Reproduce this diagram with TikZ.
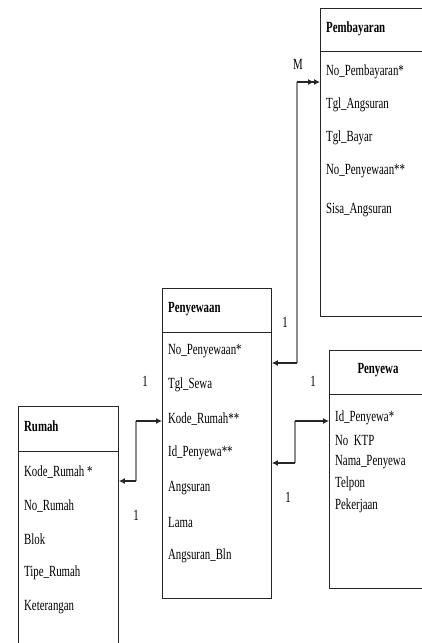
\documentclass[tikz,border=0pt]{standalone}
\usepackage{fontspec}
\setmainfont{Liberation Serif}
\usetikzlibrary{arrows.meta}
\begin{document}
\begin{tikzpicture}[x=1pt,y=-1pt,
  ent/.style={draw=black!85, line width=0.9pt, rectangle, anchor=north west, inner sep=0pt},
  fld/.style={anchor=west, inner sep=0pt, font=\fontsize{15.5}{16}\selectfont, xscale=0.7, text=black},
  hdr/.style={fld, font=\fontsize{15.5}{16}\selectfont\bfseries},
  lbl/.style={inner sep=0pt, font=\fontsize{15.5}{16}\selectfont, xscale=0.7},
  hline/.style={line width=1.1pt, draw=black!85},
  vline/.style={line width=1.1pt, draw=black!45},
  tip/.style={-{Latex[length=6pt,width=6pt]}},
  dtip/.style={-{Latex[length=6pt,width=6pt]Latex[length=6pt,width=6pt]}}
]
\useasboundingbox (0,0) rectangle (422,643);
\clip (0,0) rectangle (422,643);

% Pembayaran
\node[ent, minimum width=130pt, minimum height=308pt] (pby) at (320,8) {};
\draw[line width=0.9pt, draw=black!85] (320,51) -- (450,51);
\node[hdr] (pbyh) at (326,29) {Pembayaran};
\node[fld] (pby1) at (326,72) {No\_Pembayaran*};
\node[fld] (pby2) at (326,105) {Tgl\_Angsuran};
\node[fld] (pby3) at (326,138) {Tgl\_Bayar};
\node[fld] (pby4) at (326,171) {No\_Penyewaan**};
\node[fld] (pby5) at (326,210) {Sisa\_Angsuran};

% Penyewaan
\node[ent, minimum width=109pt, minimum height=310pt] (pnw) at (162,288) {};
\draw[line width=0.9pt, draw=black!85] (162,332) -- (271,332);
\node[hdr] (pnwh) at (168,309) {Penyewaan};
\node[fld] (pnw1) at (168,351) {No\_Penyewaan*};
\node[fld] (pnw2) at (168,385) {Tgl\_Sewa};
\node[fld] (pnw3) at (168,419) {Kode\_Rumah**};
\node[fld] (pnw4) at (168,453) {Id\_Penyewa**};
\node[fld] (pnw5) at (168,488) {Angsuran};
\node[fld] (pnw6) at (168,522) {Lama};
\node[fld] (pnw7) at (168,556) {Angsuran\_Bln};

% Rumah
\node[ent, minimum width=100pt, minimum height=260pt] (rmh) at (18,406) {};
\draw[line width=0.9pt, draw=black!85] (18,451) -- (118,451);
\node[hdr] (rmhh) at (24,426) {Rumah};
\node[fld] (rmh1) at (24,472) {Kode\_Rumah *};
\node[fld] (rmh2) at (24,506) {No\_Rumah};
\node[fld] (rmh3) at (24,539) {Blok};
\node[fld] (rmh4) at (24,573) {Tipe\_Rumah};
\node[fld] (rmh5) at (24,607) {Keterangan};

% Penyewa
\node[ent, minimum width=121pt, minimum height=238pt] (pyw) at (329,350) {};
\draw[line width=0.9pt, draw=black!85] (329,394) -- (450,394);
\node[hdr, anchor=center] (pywh) at (378,370) {Penyewa};
\node[fld] (pyw1) at (335,418) {Id\_Penyewa*};
\node[fld] (pyw2) at (335,440) {No~ KTP};
\node[fld] (pyw3) at (335,462) {Nama\_Penyewa};
\node[fld] (pyw4) at (335,484) {Telpon};
\node[fld] (pyw5) at (335,506) {Pekerjaan};

% connector Penyewaan - Pembayaran
\coordinate (a1) at (297,363);
\coordinate (a2) at (297,82);
\draw[vline] (a1) -- (a2);
\draw[hline, tip] (a1) -- (pnw.east |- a1);
\draw[hline, dtip] (a2) -- (pby.west |- a2);
\node[lbl] (lm) at (298,64) {M};
\node[lbl] (l1) at (285,322) {1};

% connector Penyewaan - Penyewa
\coordinate (b1) at (295,463);
\coordinate (b2) at (295,421);
\draw[vline] (b1) -- (b2);
\draw[hline, tip] (b1) -- (pnw.east |- b1);
\draw[hline, tip] (b2) -- (pyw.west |- b2);
\node[lbl] (l2) at (313,381) {1};
\node[lbl] (l3) at (288,497) {1};

% connector Rumah - Penyewaan
\coordinate (c1) at (136,481);
\coordinate (c2) at (136,421);
\draw[vline] (c1) -- (c2);
\draw[hline, tip] (c1) -- (rmh.east |- c1);
\draw[hline, tip] (c2) -- (pnw.west |- c2);
\node[lbl] (l4) at (145,381) {1};
\node[lbl] (l5) at (136,515) {1};
\end{tikzpicture}
\end{document}
